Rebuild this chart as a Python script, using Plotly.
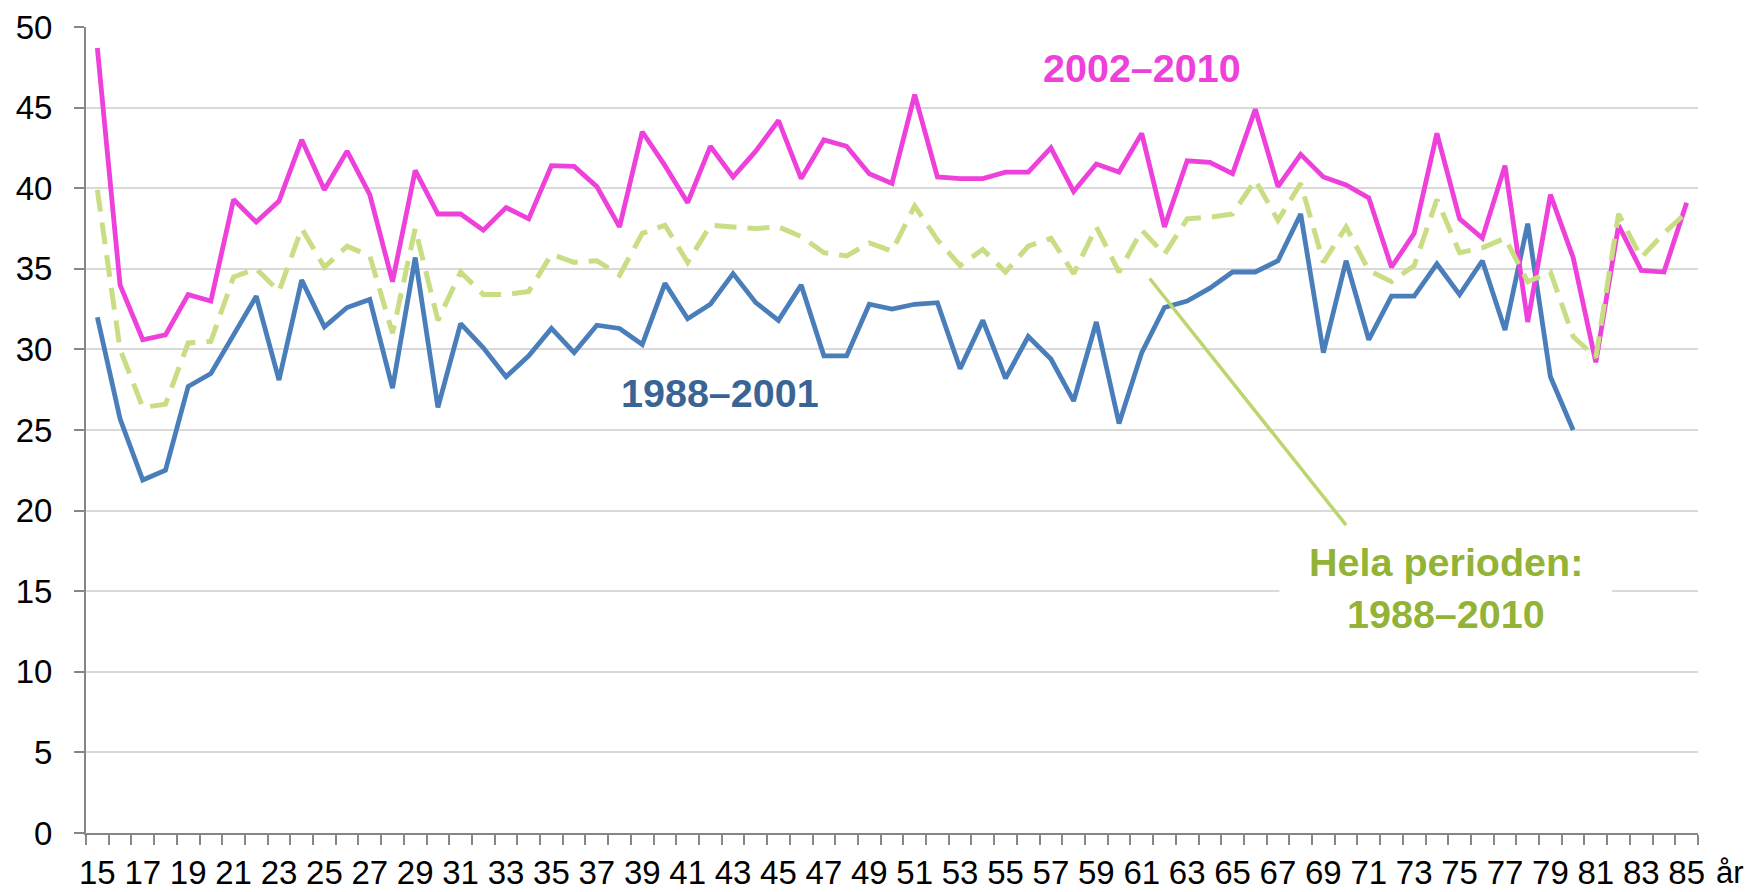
import plotly.graph_objects as go

ages = list(range(15, 86))

period_2002_2010 = [
    48.7, 34.0, 30.6, 30.9, 33.4, 33.0, 39.3, 37.9, 39.2, 43.0,
    39.9, 42.3, 39.6, 34.2, 41.1, 38.4, 38.4, 37.4, 38.8, 38.1,
    41.4, 41.35, 40.1, 37.6, 43.5, 41.4, 39.1, 42.6, 40.7, 42.3,
    44.2, 40.6, 43.0, 42.6, 40.9, 40.3, 45.8, 40.7, 40.6, 40.6,
    41.0, 41.0, 42.5, 39.8, 41.5, 41.0, 43.4, 37.6, 41.7, 41.6,
    40.9, 44.9, 40.1, 42.1, 40.7, 40.2, 39.4, 35.1, 37.2, 43.4,
    38.1, 36.9, 41.4, 31.7, 39.6, 35.7, 29.2, 37.7, 34.9, 34.8,
    39.1,
]

period_1988_2001 = [
    32.0, 25.7, 21.9, 22.5, 27.7, 28.5, 30.9, 33.3, 28.1, 34.3,
    31.4, 32.6, 33.1, 27.6, 35.7, 26.4, 31.6, 30.1, 28.3, 29.6,
    31.3, 29.8, 31.5, 31.3, 30.3, 34.1, 31.9, 32.8, 34.7, 32.9,
    31.8, 34.0, 29.6, 29.6, 32.8, 32.5, 32.8, 32.9, 28.8, 31.8,
    28.2, 30.8, 29.4, 26.8, 31.7, 25.4, 29.8, 32.6, 33.0, 33.8,
    34.8, 34.8, 35.5, 38.4, 29.8, 35.5, 30.6, 33.3, 33.3, 35.3,
    33.4, 35.5, 31.2, 37.8, 28.3, 25.0,
    None, None, None, None, None,
]

period_1988_2010 = [
    39.9, 30.0, 26.4, 26.6, 30.4, 30.5, 34.5, 35.0, 33.6, 37.5,
    35.1, 36.4, 35.8, 31.0, 37.5, 31.8, 34.8, 33.4, 33.4, 33.6,
    35.9, 35.4, 35.5, 34.6, 37.2, 37.7, 35.4, 37.7, 37.6, 37.5,
    37.6, 37.0, 36.0, 35.8, 36.6, 36.1, 38.9, 36.8, 35.2, 36.2,
    34.8, 36.4, 36.9, 34.7, 37.6, 34.8, 37.4, 35.9, 38.1, 38.2,
    38.4, 40.5, 38.0, 40.3, 35.4, 37.6, 34.9, 34.2, 35.2, 39.3,
    36.0, 36.3, 36.9, 34.2, 34.8, 30.8, 29.5, 38.4, 35.7, 37.2,
    38.5,
]

x_tick_vals = list(range(15, 86, 2))
x_tick_text = [str(v) for v in x_tick_vals]
y_tick_vals = list(range(0, 51, 5))

MAGENTA = "#EE40DA"
BLUE = "#4A7EBB"
BLUE_TEXT = "#3A6496"
GREEN_DASH = "#C9DE84"
GREEN_LINE = "#BCD66E"
GREEN_TEXT = "#93B336"
AXIS_GREY = "#868686"
FONT = "Liberation Sans, Arial, sans-serif"
TICK_SIZE = 33
LABEL_SIZE = 39.5

fig = go.Figure()
fig.add_trace(go.Scatter(x=ages, y=period_1988_2001, mode="lines",
                         line=dict(color=BLUE, width=4.8), name="1988–2001",
                         connectgaps=False))
fig.add_trace(go.Scatter(x=ages, y=period_2002_2010, mode="lines",
                         line=dict(color=MAGENTA, width=4.8), name="2002–2010"))
fig.add_trace(go.Scatter(x=ages, y=period_1988_2010, mode="lines",
                         line=dict(color=GREEN_DASH, width=5, dash="22px,11px"),
                         name="1988–2010"))

# connector line for the "Hela perioden" label
fig.add_shape(type="line", xref="x", yref="y", x0=61.35, y0=34.4, x1=70.0, y1=19.1,
              line=dict(color=GREEN_LINE, width=3.5), layer="above")
# white label box
fig.add_shape(type="rect", xref="x", yref="y", x0=67.06, x1=81.72, y0=11.9, y1=18.1,
              fillcolor="white", line=dict(width=0), layer="above")

fig.add_annotation(x=61.0, y=47.45, xref="x", yref="y", text="<b>2002–2010</b>",
                   showarrow=False, font=dict(family=FONT, size=LABEL_SIZE, color=MAGENTA))
fig.add_annotation(x=42.43, y=27.27, xref="x", yref="y", text="<b>1988–2001</b>",
                   showarrow=False, font=dict(family=FONT, size=LABEL_SIZE, color=BLUE_TEXT))
fig.add_annotation(x=74.4, y=16.8, xref="x", yref="y", text="<b>Hela perioden:</b>",
                   showarrow=False, font=dict(family=FONT, size=LABEL_SIZE, color=GREEN_TEXT))
fig.add_annotation(x=74.4, y=13.6, xref="x", yref="y", text="<b>1988–2010</b>",
                   showarrow=False, font=dict(family=FONT, size=LABEL_SIZE, color=GREEN_TEXT))
fig.add_annotation(x=1.0, xanchor="right", y=-0.0728, yanchor="bottom",
                   xref="paper", yref="paper", text="år", showarrow=False,
                   xshift=47, yshift=1, borderpad=0,
                   font=dict(family=FONT, size=31, color="black"))

fig.update_layout(
    width=1746, height=892,
    margin=dict(l=86, r=48, t=27, b=59, autoexpand=False),
    paper_bgcolor="white", plot_bgcolor="white",
    showlegend=False,
    font=dict(family=FONT, size=TICK_SIZE, color="black"),
)
fig.update_xaxes(
    range=[14.5, 85.5], tickmode="array", tickvals=x_tick_vals, ticktext=x_tick_text,
    ticks="", showgrid=False, zeroline=False, automargin=False,
    showline=True, linecolor=AXIS_GREY, linewidth=2,
    tickfont=dict(family=FONT, size=TICK_SIZE, color="black"),
    ticklabelstandoff=9,
    minor=dict(ticks="outside", tick0=14.5, dtick=1, ticklen=10, tickwidth=2,
               tickcolor=AXIS_GREY, showgrid=False),
)
fig.update_yaxes(
    range=[0, 50], tickmode="array", tickvals=y_tick_vals,
    ticks="outside", ticklen=10, tickwidth=2, tickcolor=AXIS_GREY,
    showgrid=True, gridcolor="#D9D9D9", gridwidth=1.5, zeroline=False, automargin=False,
    showline=True, linecolor=AXIS_GREY, linewidth=2,
    tickfont=dict(family=FONT, size=TICK_SIZE, color="black"),
    ticklabelstandoff=15,
)

fig.write_html("out.html", config={"displayModeBar": False},
               post_script="document.body.style.margin='0';document.body.style.overflow='hidden';")
